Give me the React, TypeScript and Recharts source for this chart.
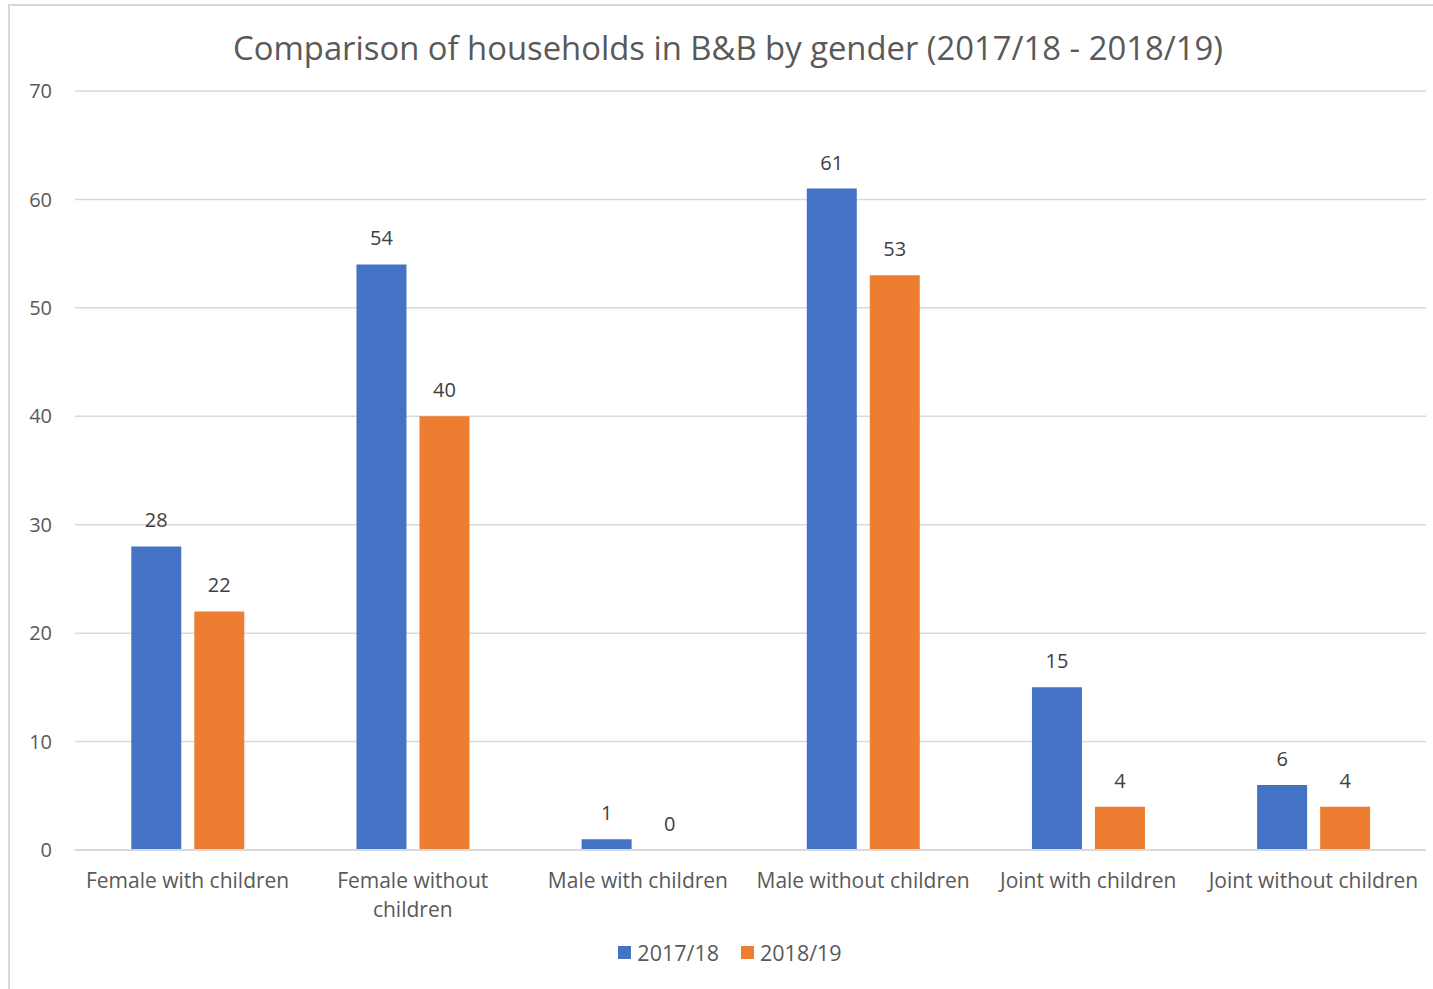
import React from "react";
import { BarChart, Bar, XAxis, YAxis, CartesianGrid, LabelList } from "recharts";

const categories = [
  "Female with children",
  "Female without children",
  "Male with children",
  "Male without children",
  "Joint with children",
  "Joint without children",
];
const tickLabelLines: string[][] = [
  ["Female with children"],
  ["Female without", "children"],
  ["Male with children"],
  ["Male without children"],
  ["Joint with children"],
  ["Joint without children"],
];
const series2017 = [28, 54, 1, 61, 15, 6];
const series2018 = [22, 40, 0, 53, 4, 4];
const yTicks = [0, 10, 20, 30, 40, 50, 60, 70];
const seriesNames = ["2017/18", "2018/19"];
const title = "Comparison of households in B&B by gender (2017/18 - 2018/19)";

const data = categories.map((c, i) => ({
  name: c,
  a: series2017[i],
  b: series2018[i],
}));

const FONT = "'Open Sans', sans-serif";
const BLUE = "#4472C4";
const ORANGE = "#ED7D31";

const XTick = (props: any) => {
  const { x, y, index } = props;
  const lines = tickLabelLines[index] || [];
  return (
    <text x={x} y={y + 38} textAnchor="middle" fill="#595959" fontSize={21} fontFamily={FONT}>
      {lines.map((l, i) => (
        <tspan key={i} x={x} dy={i === 0 ? 0 : 29}>
          {l}
        </tspan>
      ))}
    </text>
  );
};

const renderLabel = (p: any) => {
  const { x, y, width, value } = p;
  return (
    <text
      x={Number(x) + Number(width) / 2}
      y={Number(y) - 19}
      textAnchor="middle"
      fill="#404040"
      fontSize={20}
      fontFamily={FONT}
    >
      {value}
    </text>
  );
};

const tinyForZero = (v: any) => (Number(v) === 0 ? 0.01 : 0);

export default function App() {
  return (
    <div
      style={{
        position: "absolute",
        left: 8,
        top: 4,
        width: 1425,
        height: 985,
        borderTop: "2px solid #d9d9d9",
        borderLeft: "2px solid #d9d9d9",
        background: "#fff",
        boxSizing: "border-box",
      }}
    >
      <div
        style={{
          position: "absolute",
          left: -2,
          width: 1440,
          top: 19,
          textAlign: "center",
          fontFamily: FONT,
          fontSize: 32.8,
          color: "#595959",
          whiteSpace: "nowrap",
        }}
      >
        {title}
      </div>
      <div style={{ position: "absolute", left: -2, top: -2 }}>
        <BarChart
          width={1425}
          height={985}
          data={data}
          margin={{ top: 87, right: 7, left: 0, bottom: 0 }}
          barGap={13}
          barCategoryGap="25%"
        >
          <CartesianGrid vertical={false} stroke="#d9d9d9" strokeWidth={1.5} />
          <XAxis
            dataKey="name"
            tick={<XTick />}
            tickLine={false}
            tickSize={0}
            tickMargin={0}
            axisLine={{ stroke: "#d9d9d9", strokeWidth: 2 }}
            height={139}
            interval={0}
          />
          <YAxis
            domain={[0, 70]}
            ticks={yTicks}
            width={67}
            axisLine={false}
            tickLine={false}
            tickSize={0}
            tickMargin={23}
            tick={{ fill: "#595959", fontSize: 20, fontFamily: FONT }}
          />
          <Bar dataKey="a" name={seriesNames[0]} fill={BLUE} isAnimationActive={false} minPointSize={tinyForZero}>
            <LabelList dataKey="a" content={renderLabel} />
          </Bar>
          <Bar dataKey="b" name={seriesNames[1]} fill={ORANGE} isAnimationActive={false} minPointSize={tinyForZero}>
            <LabelList dataKey="b" content={renderLabel} />
          </Bar>
        </BarChart>
      </div>
      <div
        style={{
          position: "absolute",
          left: 0,
          width: 1440,
          top: 932,
          display: "flex",
          justifyContent: "center",
          alignItems: "center",
          fontFamily: FONT,
          fontSize: 21.5,
          color: "#595959",
        }}
      >
        {seriesNames.map((n, i) => (
          <div key={n} style={{ display: "flex", alignItems: "center", marginRight: i === 0 ? 22 : 0 }}>
            <div style={{ width: 13, height: 13, background: i === 0 ? BLUE : ORANGE, marginRight: 6 }} />
            <span>{n}</span>
          </div>
        ))}
      </div>
    </div>
  );
}
